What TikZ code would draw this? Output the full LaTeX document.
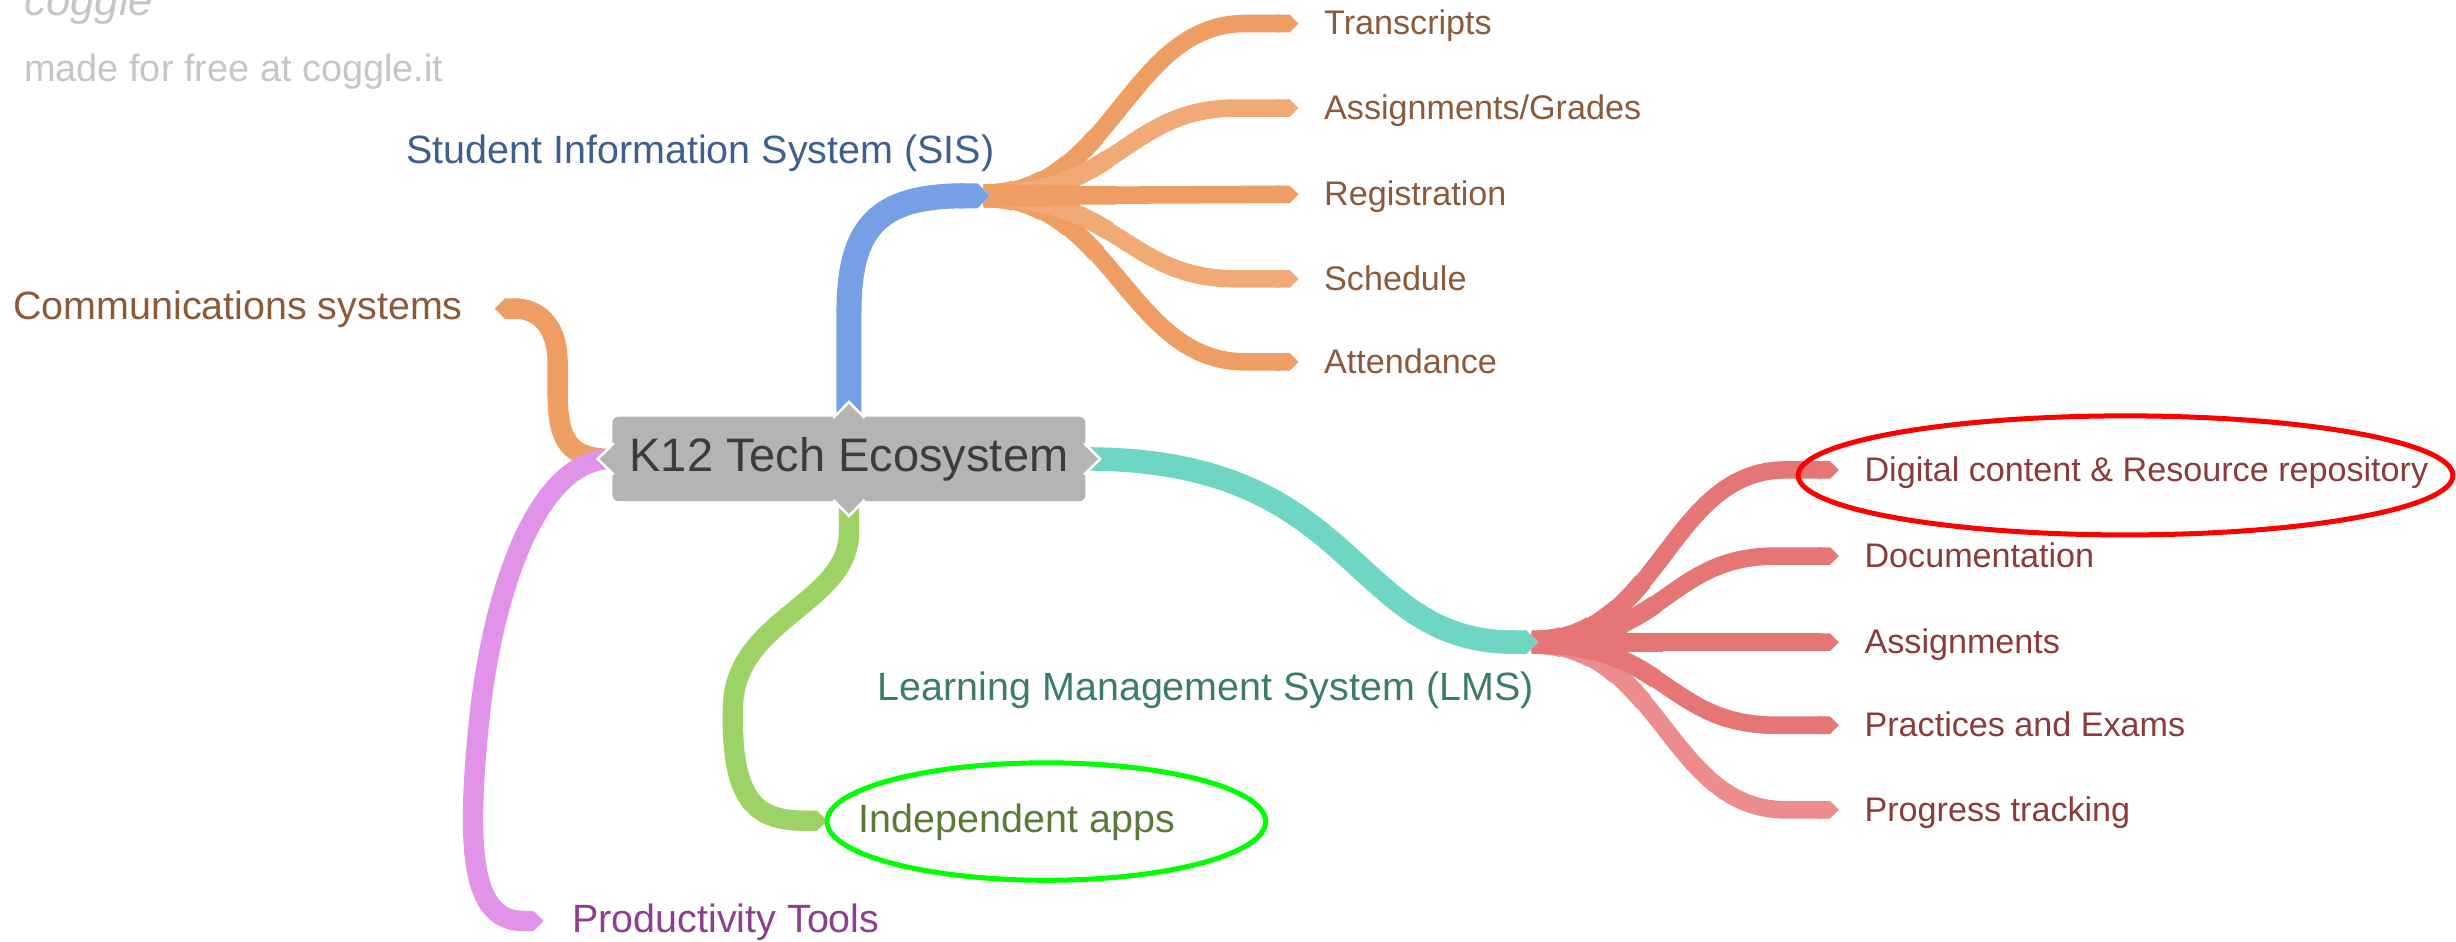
\documentclass[tikz,border=0pt]{standalone}
\usepackage{fontspec}
\setmainfont{Liberation Sans}
\usetikzlibrary{arrows.meta}
\pgfdeclarelayer{background}
\pgfsetlayers{background,main}
\definecolor{cblue}{HTML}{76A0E6}
\definecolor{corange}{HTML}{EE9E62}
\definecolor{corangeL}{HTML}{F1AA76}
\definecolor{cteal}{HTML}{6ED6C2}
\definecolor{cred}{HTML}{E67676}
\definecolor{credL}{HTML}{EC8C8C}
\definecolor{cgreen}{HTML}{9CD266}
\definecolor{cpurple}{HTML}{E192E9}
\definecolor{tblue}{HTML}{3F5F8F}
\definecolor{tbrown}{HTML}{8B5A3B}
\definecolor{tteal}{HTML}{3E7B6F}
\definecolor{tred}{HTML}{8A3B3B}
\definecolor{tgreen}{HTML}{5B7A3A}
\definecolor{tpurple}{HTML}{8E3E8E}
\definecolor{rootgray}{HTML}{B4B4B4}
\definecolor{roottext}{HTML}{3C3C3C}
\definecolor{faint}{HTML}{C6C6C6}
\definecolor{markred}{HTML}{FF0000}
\definecolor{markgreen}{HTML}{00FF00}
\begin{document}
\begin{tikzpicture}[x=0.5pt, y=-0.5pt,
  lbl/.style={anchor=west, inner sep=0pt, text height=.72em, text depth=0pt},
  l1/.style={lbl, font=\fontsize{12.6}{15}\selectfont},
  l2/.style={lbl, font=\fontsize{10.9}{13}\selectfont},
  root/.style={fill=rootgray, text=roottext, rounded corners=2pt, minimum width=151pt,
    minimum height=27pt, inner sep=0pt, font=\fontsize{15}{18}\selectfont},
  kid/.style={draw=#1, line width=5.6pt, line cap=butt, -{Triangle Cap},
    preaction={draw=#1, line width=7.4pt, line cap=butt, dash pattern=on 10pt off 2000pt, arrows=-},
    preaction={draw=#1, line width=6.9pt, line cap=butt, dash pattern=on 20pt off 2000pt, arrows=-},
    preaction={draw=#1, line width=6.4pt, line cap=butt, dash pattern=on 30pt off 2000pt, arrows=-},
    preaction={draw=#1, line width=6.0pt, line cap=butt, dash pattern=on 42pt off 2000pt, arrows=-}},
  lone/.style 2 args={draw=#1, line width=#2, line cap=butt, -{Triangle Cap}},
  br/.style n args={3}{draw=#1, line width=#2, line cap=butt, -{Triangle Cap},
    preaction={draw=white, line width=#3}},
  ptr/.style={fill=rootgray, draw=white, line width=0.8pt, line join=miter},
  markline/.style={line width=1.6pt}
]
\useasboundingbox (0,0) rectangle (1568,601);
\clip (0,0) rectangle (1568,601);

% watermark
\node[anchor=base west, inner sep=0pt, text=faint,
  font=\fontsize{14}{16}\selectfont\itshape] (logo) at (15,10) {coggle};
\node[lbl, text=faint, font=\fontsize{12.1}{14}\selectfont] (made) at (15,45) {made for free at coggle.it};

% root
\node[root] (root) at (542,293) {K12 Tech Ecosystem};

% level 1 labels
\node[l1, text=tblue] (sis) at (259,97) {Student Information System (SIS)};
\node[l1, text=tbrown] (comm) at (8,197) {Communications systems};
\node[l1, text=tteal] (lms) at (560,440) {Learning Management System (LMS)};
\node[l1, text=tgreen] (apps) at (548,524) {Independent apps};
\node[l1, text=tpurple] (prod) at (365,588) {Productivity Tools};

% SIS children
\node[l2, text=tbrown] (tr) at (845,15) {Transcripts};
\node[l2, text=tbrown] (ag) at (845,69) {Assignments/Grades};
\node[l2, text=tbrown] (rg) at (845,124) {Registration};
\node[l2, text=tbrown] (sc) at (845,178) {Schedule};
\node[l2, text=tbrown] (at) at (845,231) {Attendance};

% LMS children
\node[l2, text=tred] (dc) at (1190,300) {Digital content \& Resource repository};
\node[l2, text=tred] (doc) at (1190,355) {Documentation};
\node[l2, text=tred] (as) at (1190,410) {Assignments};
\node[l2, text=tred] (pe) at (1190,463) {Practices and Exams};
\node[l2, text=tred] (pt) at (1190,517) {Progress tracking};

\coordinate (sisJ) at (628,125);
\coordinate (sisE) at (632,125);
\coordinate (lmsJ) at (978,410);
\coordinate (lmsE) at (982,410);

\begin{pgfonlayer}{background}
  % SIS fan
  \draw[kid=corange] (sisJ) .. controls +(82,0) and +(-75,0) .. ([xshift=-25pt]tr.west) -- ([xshift=-8pt]tr.west);
  \draw[kid=corange] (sisJ) .. controls +(82,0) and +(-75,0) .. ([xshift=-25pt]at.west) -- ([xshift=-8pt]at.west);
  \draw[kid=corangeL] (sisJ) .. controls +(85,0) and +(-70,0) .. ([xshift=-28pt]ag.west) -- ([xshift=-8pt]ag.west);
  \draw[kid=corangeL] (sisJ) .. controls +(85,0) and +(-70,0) .. ([xshift=-28pt]sc.west) -- ([xshift=-8pt]sc.west);
  \draw[kid=corange] (sisJ) -- ([xshift=-8pt]rg.west);
  % LMS fan
  \draw[kid=cred] (lmsJ) .. controls +(82,0) and +(-75,0) .. ([xshift=-25pt]dc.west) -- ([xshift=-8pt]dc.west);
  \draw[kid=credL] (lmsJ) .. controls +(82,0) and +(-75,0) .. ([xshift=-25pt]pt.west) -- ([xshift=-8pt]pt.west);
  \draw[kid=cred] (lmsJ) .. controls +(85,0) and +(-70,0) .. ([xshift=-28pt]doc.west) -- ([xshift=-8pt]doc.west);
  \draw[kid=cred] (lmsJ) .. controls +(85,0) and +(-70,0) .. ([xshift=-28pt]pe.west) -- ([xshift=-8pt]pe.west);
  \draw[kid=cred] (lmsJ) -- ([xshift=-8pt]as.west);
  % level 1 branches
  \draw[lone={corange}{6.5pt}] (root.west) .. controls (362,293) and (356,280) .. (356,250)
     -- (356,232) .. controls (356,206) and (342,197) .. ([xshift=10pt]comm.east);
  \draw[lone={cpurple}{6.5pt}] (root.west) .. controls (345,293) and (317,370) .. (307,450)
     .. controls (297,540) and (300,588) .. ([xshift=-9pt]prod.west);
  \draw[lone={cgreen}{6.5pt}] (root.south) -- (542,340) .. controls (542,385) and (470,395) .. (468,450)
     .. controls (466,515) and (485,524) .. ([xshift=-10pt]apps.west);
  \draw[br={cblue}{8pt}{10pt}] (root.north) -- (542,200) .. controls (542,145) and (560,125) .. (sisE);
  \draw[br={cteal}{7.5pt}{9.5pt}] (root.east) .. controls (870,293) and (860,410) .. (lmsE);
\end{pgfonlayer}

% pointers on the root
\filldraw[ptr] ([xshift=-5pt,yshift=-.6pt]root.north) -- ([yshift=4.5pt]root.north) -- ([xshift=5pt,yshift=-.6pt]root.north);
\filldraw[ptr] ([xshift=-5pt,yshift=.6pt]root.south) -- ([yshift=-4.5pt]root.south) -- ([xshift=5pt,yshift=.6pt]root.south);
\filldraw[ptr] ([yshift=5pt,xshift=.6pt]root.west) -- ([xshift=-4.5pt]root.west) -- ([yshift=-5pt,xshift=.6pt]root.west);
\filldraw[ptr] ([yshift=5pt,xshift=-.6pt]root.east) -- ([xshift=4.5pt]root.east) -- ([yshift=-5pt,xshift=-.6pt]root.east);

% hand-drawn marks
\draw[markline, markred] (1357,303.5) ellipse [x radius=209, y radius=38];
\draw[markline, markgreen] (668,524.5) ellipse [x radius=140, y radius=37.5];
\end{tikzpicture}
\end{document}
